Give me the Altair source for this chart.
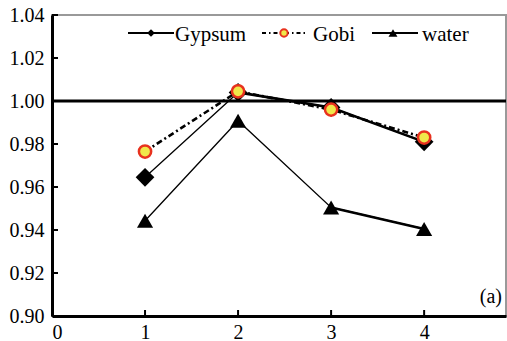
import altair as alt
import pandas as pd

# Measured ratios at positions 1-4
positions = [1, 2, 3, 4]
gypsum = [0.9645, 1.004, 0.997, 0.981]
gobi = [0.9765, 1.0045, 0.996, 0.983]
water = [0.9443, 0.9908, 0.9505, 0.9405]

x_ticks = [0, 1, 2, 3, 4]
y_ticks = [0.90, 0.92, 0.94, 0.96, 0.98, 1.00, 1.02, 1.04]
reference_level = 1.00
panel_tag = "(a)"

series_names = ["Gypsum", "Gobi", "water"]

rows = []
for name, vals in zip(series_names, [gypsum, gobi, water]):
    for p, v in zip(positions, vals):
        rows.append({"pos": p, "value": v, "series": name})
df = pd.DataFrame(rows)

FONT = "Liberation Serif"
W, H = 454, 301
x_scale = alt.Scale(domain=[0, 4.88], nice=False, zero=False)
y_scale = alt.Scale(domain=[0.90, 1.04], nice=False, zero=False)

x_axis = alt.Axis(values=x_ticks, format="d", title=None, grid=False,
                  tickSize=0, domainColor="black", domainWidth=3,
                  labelFont=FONT, labelFontSize=20, labelColor="black",
                  labelPadding=6, zindex=2)
y_axis = alt.Axis(values=y_ticks, format=".2f", title=None, grid=False,
                  tickSize=0, domainColor="black", domainWidth=3,
                  labelFont=FONT, labelFontSize=20, labelColor="black",
                  labelPadding=8, zindex=2)

base = alt.Chart(df)
X = alt.X("pos:Q", scale=x_scale, axis=x_axis)
Y = alt.Y("value:Q", scale=y_scale, axis=y_axis)


def series(name):
    return base.transform_filter(alt.datum.series == name)


# reference line at 1.00
ref = alt.Chart(pd.DataFrame({"level": [reference_level]})).mark_rule(
    color="black", strokeWidth=3
).encode(y=alt.Y("level:Q", scale=y_scale, axis=y_axis))

# inward tick marks
y_tick_marks = alt.Chart(pd.DataFrame({"t": y_ticks})).mark_rule(
    color="black", strokeWidth=2
).encode(y=alt.Y("t:Q", scale=y_scale, axis=y_axis),
         x=alt.value(0), x2=alt.value(6))
x_tick_marks = alt.Chart(pd.DataFrame({"t": x_ticks[1:]})).mark_rule(
    color="black", strokeWidth=2
).encode(x=alt.X("t:Q", scale=x_scale, axis=x_axis),
         y=alt.value(H), y2=alt.value(H - 6))

gobi_line = series("Gobi").mark_line(
    color="black", strokeWidth=2.6, strokeDash=[6, 3, 2, 3]
).encode(x=X, y=Y)

gyp_thin = series("Gypsum").mark_line(color="black", strokeWidth=1.3).encode(x=X, y=Y)
gyp_thick = series("Gypsum").transform_filter(alt.datum.pos >= 2).mark_line(
    color="black", strokeWidth=2.6).encode(x=X, y=Y)

water_thin = series("water").mark_line(color="black", strokeWidth=1.3).encode(x=X, y=Y)
water_thick = series("water").transform_filter(alt.datum.pos >= 3).mark_line(
    color="black", strokeWidth=2.6).encode(x=X, y=Y)

gyp_pts = series("Gypsum").mark_point(
    shape="diamond", filled=True, color="black", size=350, opacity=1
).encode(x=X, y=Y)
water_pts = series("water").mark_point(
    shape="triangle-up", filled=True, color="black", size=260, opacity=1
).encode(x=X, y=Y)
gobi_pts = series("Gobi").mark_point(
    shape="circle", filled=True, fill="#f0e84a", stroke="#e8321e",
    strokeWidth=2.5, size=150, opacity=1
).encode(x=X, y=Y)

# legend drawn along the top of the panel
one = pd.DataFrame({"k": [0]})
LY = 18


def legend_entry(x0, x1, xm, label, tx, marker, dash=None):
    line_kw = dict(color="black", strokeWidth=2)
    if dash:
        line_kw["strokeDash"] = dash
    ln = alt.Chart(one).mark_rule(**line_kw).encode(
        x=alt.value(x0), x2=alt.value(x1), y=alt.value(LY))
    mk = alt.Chart(one).mark_point(opacity=1, **marker).encode(
        x=alt.value(xm), y=alt.value(LY))
    tx_mark = alt.Chart(one).mark_text(
        text=label, font=FONT, fontSize=21, align="left",
        baseline="alphabetic", color="black"
    ).encode(x=alt.value(tx), y=alt.value(LY + 8))
    return [ln, mk, tx_mark]


legend_layers = []
legend_layers += legend_entry(76, 122, 99, "Gypsum", 123,
                              dict(shape="diamond", filled=True, color="black", size=60))
legend_layers += legend_entry(210, 256, 232, "Gobi", 261,
                              dict(shape="circle", filled=True, fill="#f0e84a",
                                   stroke="#e8321e", strokeWidth=2, size=55),
                              dash=[4, 3, 1.5, 3])
legend_layers += legend_entry(320, 366, 341, "water", 370,
                              dict(shape="triangle-up", filled=True, color="black", size=80))

tag = alt.Chart(one).mark_text(
    text=panel_tag, font=FONT, fontSize=20, align="right",
    baseline="alphabetic", color="black"
).encode(x=alt.value(W - 4), y=alt.value(H - 13))

chart = alt.layer(
    ref, y_tick_marks, x_tick_marks,
    gobi_line, gyp_thin, gyp_thick, water_thin, water_thick,
    gyp_pts, water_pts, gobi_pts,
    *legend_layers, tag
).properties(
    width=W, height=H,
    autosize=alt.AutoSizeParams(type="none"),
    padding={"left": 52, "top": 15, "right": 1, "bottom": 25},
    background="white",
).configure_view(
    stroke="#999999", strokeWidth=2
)

chart.save("out.html", embed_options={"renderer": "svg", "actions": False})
